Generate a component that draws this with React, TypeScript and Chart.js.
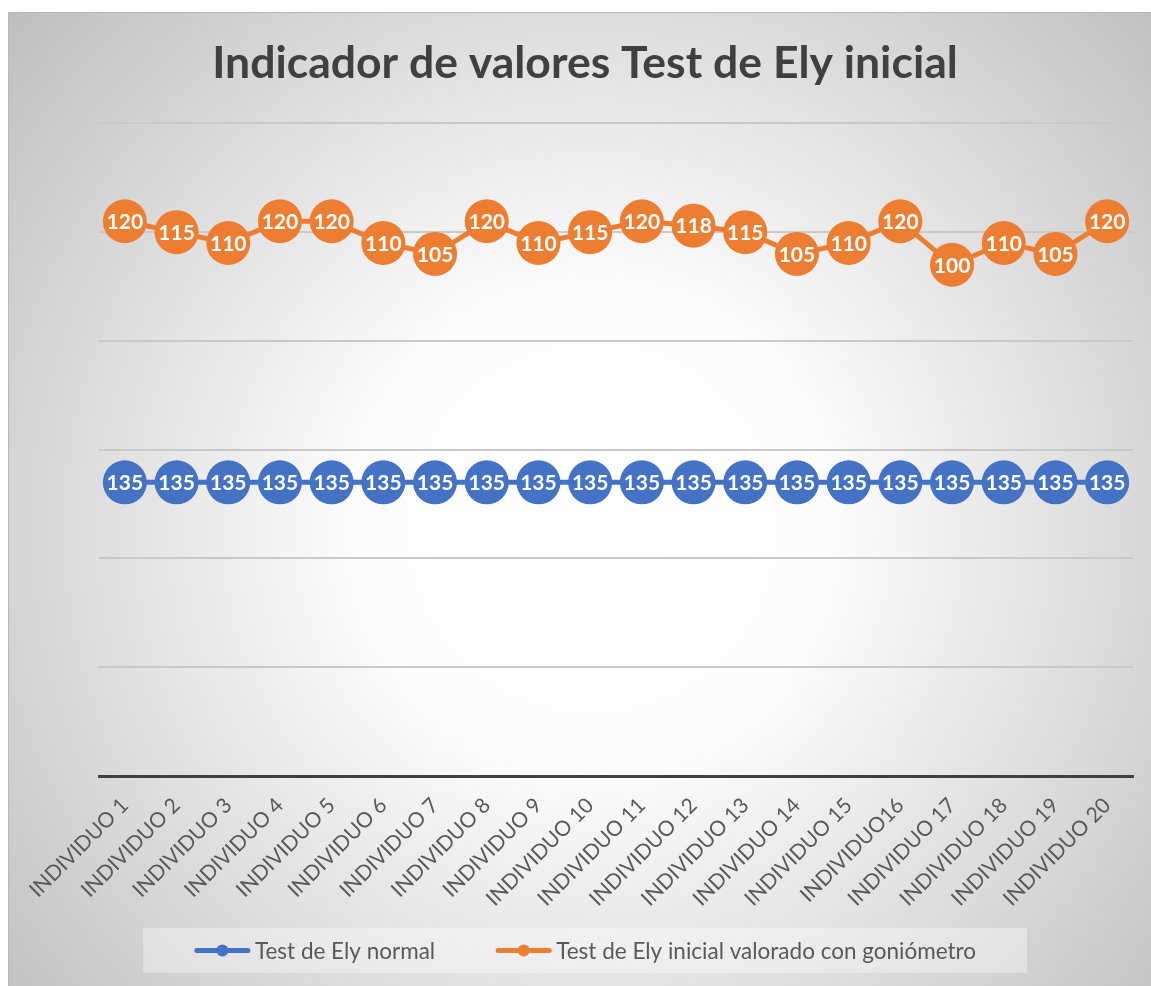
import React, { useEffect, useRef } from "react";
import { Chart, registerables } from "chart.js";

Chart.register(...registerables);

const chartTitle = "Indicador de valores Test de Ely inicial";

const categories = [
  "INDIVIDUO 1", "INDIVIDUO 2", "INDIVIDUO 3", "INDIVIDUO 4", "INDIVIDUO 5",
  "INDIVIDUO 6", "INDIVIDUO 7", "INDIVIDUO 8", "INDIVIDUO 9", "INDIVIDUO 10",
  "INDIVIDUO 11", "INDIVIDUO 12", "INDIVIDUO 13", "INDIVIDUO 14", "INDIVIDUO 15",
  "INDIVIDUO16", "INDIVIDUO 17", "INDIVIDUO 18", "INDIVIDUO 19", "INDIVIDUO 20",
];

const normalLabel = "Test de Ely normal";
const normalValues = [
  135, 135, 135, 135, 135, 135, 135, 135, 135, 135,
  135, 135, 135, 135, 135, 135, 135, 135, 135, 135,
];

const initialLabel = "Test de Ely inicial valorado con goniómetro";
const initialValues = [
  120, 115, 110, 120, 120, 110, 105, 120, 110, 115,
  120, 118, 115, 105, 110, 120, 100, 110, 105, 120,
];

const yMin = 0;
const yMax = 300;
const yStep = 50;

const BLUE = "#4472C4";
const ORANGE = "#ED7D31";
const FONT = "Lato, 'Open Sans', sans-serif";

const backgroundPlugin = {
  id: "bgFrame",
  beforeDraw(chart: any) {
    const { ctx, width, height } = chart;
    ctx.save();
    ctx.fillStyle = "#ffffff";
    ctx.fillRect(0, 0, width, height);
    const g = ctx.createRadialGradient(585, 520, 0, 585, 520, 800);
    g.addColorStop(0, "#ffffff");
    g.addColorStop(0.3, "#fcfcfc");
    g.addColorStop(1, "#bcbcbc");
    ctx.fillStyle = g;
    ctx.fillRect(0.5, 4.5, width + 10, height + 10);
    ctx.strokeStyle = "#b8b8b8";
    ctx.lineWidth = 1;
    ctx.strokeRect(0.5, 4.5, width + 10, height + 10);
    ctx.restore();
  },
};

const dataLabelPlugin = {
  id: "pointValues",
  afterDatasetsDraw(chart: any) {
    const { ctx } = chart;
    ctx.save();
    ctx.font = `bold 21px ${FONT}`;
    ctx.fillStyle = "#ffffff";
    ctx.textAlign = "center";
    ctx.textBaseline = "middle";
    chart.data.datasets.forEach((ds: any, di: number) => {
      const meta = chart.getDatasetMeta(di);
      meta.data.forEach((pt: any, i: number) => {
        ctx.fillText(String(ds.data[i]), pt.x, pt.y + 1);
      });
    });
    ctx.restore();
  },
};

const legendPlugin = {
  id: "customLegend",
  afterDraw(chart: any) {
    const { ctx } = chart;
    ctx.save();
    ctx.fillStyle = "rgba(255,255,255,0.35)";
    ctx.fillRect(135, 920, 884, 45);
    ctx.font = `22.5px ${FONT}`;
    const items = chart.data.datasets.map((d: any) => ({
      text: d.label,
      color: d.borderColor,
      w: ctx.measureText(d.label).width,
    }));
    const marker = 57;
    const gap = 4;
    const spacing = 60;
    const total =
      items.reduce((s: number, it: any) => s + marker + gap + it.w, 0) +
      spacing * (items.length - 1);
    let x = 577 - total / 2;
    const y = 942.5;
    items.forEach((it: any) => {
      ctx.strokeStyle = it.color;
      ctx.lineWidth = 5;
      ctx.lineCap = "round";
      ctx.beginPath();
      ctx.moveTo(x + 3, y);
      ctx.lineTo(x + marker - 3, y);
      ctx.stroke();
      ctx.fillStyle = it.color;
      ctx.beginPath();
      ctx.arc(x + marker / 2, y, 6, 0, Math.PI * 2);
      ctx.fill();
      ctx.fillStyle = "#595959";
      ctx.textAlign = "left";
      ctx.textBaseline = "middle";
      ctx.fillText(it.text, x + marker + gap, y + 1);
      x += marker + gap + it.w + spacing;
    });
    ctx.restore();
  },
};

export default function App() {
  const canvasRef = useRef<HTMLCanvasElement | null>(null);

  useEffect(() => {
    if (!canvasRef.current) return;
    const chart = new Chart(canvasRef.current, {
      type: "line",
      data: {
        labels: categories,
        datasets: [
          {
            label: normalLabel,
            data: normalValues,
            borderColor: BLUE,
            backgroundColor: BLUE,
            pointBackgroundColor: BLUE,
            pointBorderWidth: 0,
            pointRadius: 22,
            pointHoverRadius: 22,
            borderWidth: 5,
            fill: false,
            tension: 0,
          },
          {
            label: initialLabel,
            data: initialValues,
            borderColor: ORANGE,
            backgroundColor: ORANGE,
            pointBackgroundColor: ORANGE,
            pointBorderWidth: 0,
            pointRadius: 22,
            pointHoverRadius: 22,
            borderWidth: 5,
            fill: false,
            tension: 0,
          },
        ],
      },
      options: {
        responsive: false,
        animation: false,
        events: [],
        layout: {
          autoPadding: false,
          padding: { left: 29, right: 18, top: 0, bottom: 70 },
        },
        plugins: {
          legend: { display: false },
          tooltip: { enabled: false },
          title: {
            display: true,
            text: chartTitle,
            color: "#404040",
            font: { family: FONT, size: 44.5, weight: "bold" },
            padding: { top: 29, bottom: 33 },
          },
        },
        scales: {
          x: {
            type: "category",
            offset: true,
            grid: { display: false },
            border: { display: true, color: "#404040", width: 3 },
            ticks: {
              color: "#595959",
              font: { family: FONT, size: 21 },
              minRotation: 45,
              maxRotation: 45,
              autoSkip: false,
              padding: 9,
            },
            afterFit: (s: any) => {
              s.height = 140;
            },
          },
          y: {
            type: "linear",
            stacked: true,
            min: yMin,
            max: yMax,
            ticks: { display: false, stepSize: yStep },
            grid: { color: "#c9c9c9", lineWidth: 2, drawTicks: false },
            border: { display: false },
            afterFit: (s: any) => {
              s.width = 62;
            },
          },
        },
      },
      plugins: [backgroundPlugin, dataLabelPlugin, legendPlugin],
    });
    return () => chart.destroy();
  }, []);

  return (
    <div
      style={{
        position: "absolute",
        left: 0,
        top: 0,
        width: 1151,
        height: 986,
        overflow: "hidden",
      }}
    >
      <canvas
        ref={canvasRef}
        width={1143}
        height={978}
        style={{ position: "absolute", left: 8, top: 8, display: "block" }}
      />
    </div>
  );
}
